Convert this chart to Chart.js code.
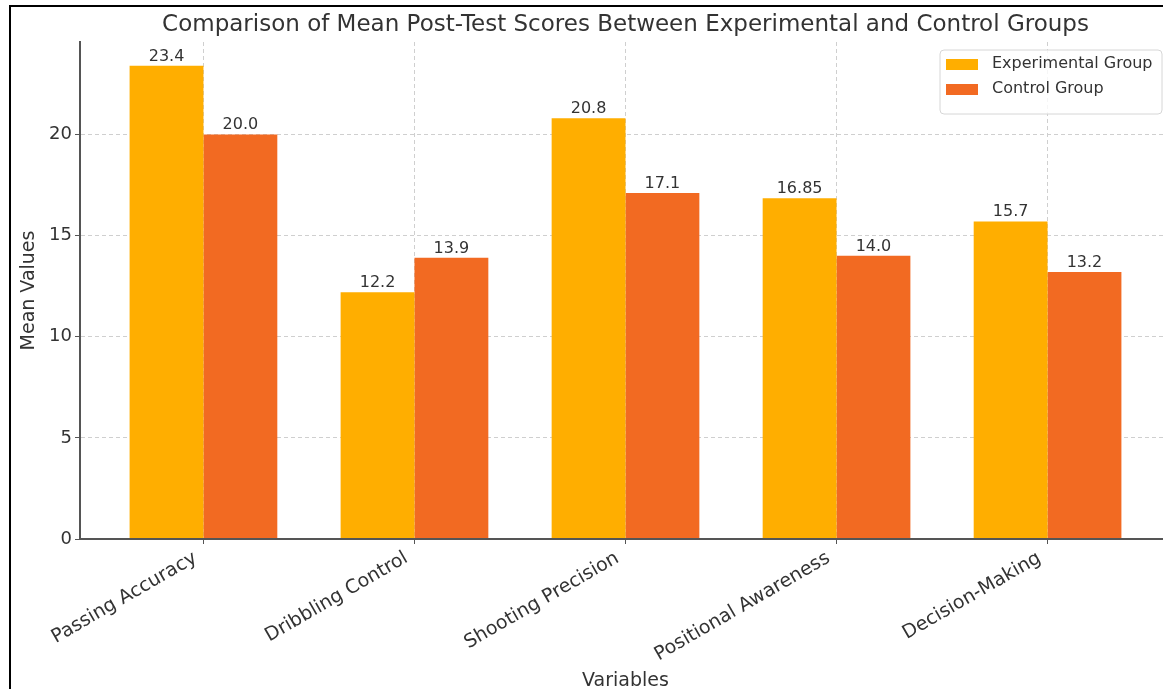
<!DOCTYPE html>
<html><head><meta charset="utf-8">
<script src="https://cdn.jsdelivr.net/npm/chart.js@4.4.0/dist/chart.umd.min.js"></script>
<style>
html,body{margin:0;padding:0;overflow:hidden;background:#fff;width:1163px;height:689px;}
#wrap{position:relative;width:1163px;height:689px;overflow:hidden;background:#fff;}
canvas{position:absolute;left:0;top:0;}
#frame{position:absolute;left:9px;top:5px;width:1200px;height:720px;border-top:2px solid #000;border-left:2px solid #000;pointer-events:none;}
</style></head><body>
<div id="wrap"><canvas id="c" width="1190" height="700"></canvas><div id="frame"></div></div>
<script>
const categories = ['Passing Accuracy', 'Dribbling Control', 'Shooting Precision', 'Positional Awareness', 'Decision-Making'];
const experimentalValues = [23.4, 12.2, 20.8, 16.85, 15.7];
const controlValues = [20.0, 13.9, 17.1, 14.0, 13.2];
const seriesLabels = ['Experimental Group', 'Control Group'];
const seriesColors = ['#FFAE00', '#F26A22'];
const yTickValues = [0, 5, 10, 15, 20];
const titleText = 'Comparison of Mean Post-Test Scores Between Experimental and Control Groups';
const xAxisTitle = 'Variables';
const yAxisTitle = 'Mean Values';

const FONT = "'DejaVu Sans', 'Liberation Sans', sans-serif";
const TEXT = '#333333';
const barFrac = 0.35;
const nCat = categories.length;
const xPad = 0.05 * ((nCat - 1) + 2 * barFrac);
const yMaxAll = Math.max(...experimentalValues, ...controlValues) * 1.05;

function fmt(v) { return Number.isInteger(v) ? v.toFixed(1) : String(v); }

const overlay = {
  id: 'overlay',
  afterDatasetsDraw(chart) {
    const ctx = chart.ctx, a = chart.chartArea;
    ctx.save();
    ctx.strokeStyle = '#555555';
    ctx.lineWidth = 2;
    ctx.beginPath();
    ctx.moveTo(a.left, a.top);
    ctx.lineTo(a.left, a.bottom);
    ctx.lineTo(a.right + 20, a.bottom);
    ctx.stroke();
    ctx.fillStyle = TEXT;
    ctx.font = '16px ' + FONT;
    ctx.textAlign = 'center';
    ctx.textBaseline = 'alphabetic';
    const series = [experimentalValues, controlValues];
    chart.data.datasets.forEach((ds, di) => {
      const meta = chart.getDatasetMeta(di);
      meta.data.forEach((el, i) => {
        ctx.fillText(fmt(series[di][i]), el.x, el.y - 5);
      });
    });
    ctx.restore();
  },
  afterDraw(chart) {
    const ctx = chart.ctx, a = chart.chartArea;
    const cx = (a.left + a.right) / 2;
    ctx.save();
    ctx.fillStyle = TEXT;
    ctx.textAlign = 'center';
    ctx.textBaseline = 'alphabetic';
    ctx.font = '23px ' + FONT;
    ctx.fillText(titleText, cx, 31);
    ctx.font = '19px ' + FONT;
    ctx.fillText(xAxisTitle, cx, 686);
    ctx.save();
    ctx.translate(29, (a.top + a.bottom) / 2);
    ctx.rotate(-Math.PI / 2);
    ctx.textBaseline = 'middle';
    ctx.fillText(yAxisTitle, 0, 0);
    ctx.restore();
    const lx = 940, ly = 50, lw = 222, lh = 64, r = 4;
    ctx.beginPath();
    ctx.moveTo(lx + r, ly);
    ctx.lineTo(lx + lw - r, ly); ctx.arcTo(lx + lw, ly, lx + lw, ly + r, r);
    ctx.lineTo(lx + lw, ly + lh - r); ctx.arcTo(lx + lw, ly + lh, lx + lw - r, ly + lh, r);
    ctx.lineTo(lx + r, ly + lh); ctx.arcTo(lx, ly + lh, lx, ly + lh - r, r);
    ctx.lineTo(lx, ly + r); ctx.arcTo(lx, ly, lx + r, ly, r);
    ctx.closePath();
    ctx.fillStyle = 'rgba(255,255,255,0.8)';
    ctx.fill();
    ctx.strokeStyle = '#d6d6d6';
    ctx.lineWidth = 1;
    ctx.stroke();
    ctx.font = '16px ' + FONT;
    ctx.textAlign = 'left';
    ctx.textBaseline = 'middle';
    seriesLabels.forEach((lab, i) => {
      const y = 64 + i * 25;
      ctx.fillStyle = seriesColors[i];
      ctx.fillRect(946, y - 5, 32, 11);
      ctx.fillStyle = TEXT;
      ctx.fillText(lab, 992, y);
    });
    ctx.restore();
  }
};

new Chart(document.getElementById('c'), {
  type: 'bar',
  data: {
    datasets: [
      { label: seriesLabels[0], data: experimentalValues.map((v, i) => ({ x: i, y: v })), backgroundColor: seriesColors[0], borderWidth: 0 },
      { label: seriesLabels[1], data: controlValues.map((v, i) => ({ x: i, y: v })), backgroundColor: seriesColors[1], borderWidth: 0 }
    ]
  },
  options: {
    responsive: false,
    animation: false,
    devicePixelRatio: 1,
    categoryPercentage: 2 * barFrac,
    barPercentage: 1.0,
    layout: { padding: { top: 42, right: 19, left: 0, bottom: 0 } },
    plugins: { legend: { display: false }, title: { display: false }, tooltip: { enabled: false } },
    scales: {
      x: {
        type: 'linear',
        offset: false,
        min: -barFrac - xPad,
        max: (nCat - 1) + barFrac + xPad,
        afterBuildTicks: (s) => { s.ticks = categories.map((_, i) => ({ value: i })); },
        afterFit: (s) => { s.height = 161; },
        grid: { offset: false, color: '#cfcfcf', lineWidth: 1, tickLength: 5, tickColor: '#555555', drawTicks: true },
        border: { display: true, color: '#555555', width: 2, dash: [4, 3] },
        ticks: {
          autoSkip: false, minRotation: 30, maxRotation: 30, padding: 3, labelOffset: -8,
          color: TEXT, font: { family: FONT, size: 19 },
          callback: (v) => categories[v] ?? ''
        }
      },
      y: {
        min: 0,
        max: yMaxAll,
        afterBuildTicks: (s) => { s.ticks = yTickValues.map(v => ({ value: v })); },
        afterFit: (s) => { s.width = 80; },
        grid: { color: '#cfcfcf', lineWidth: 1, tickLength: 5, tickColor: '#555555' },
        border: { display: true, color: '#555555', width: 2, dash: [4, 3] },
        ticks: { padding: 3, color: TEXT, font: { family: FONT, size: 18 } }
      }
    }
  },
  plugins: [overlay]
});
</script>
</body></html>
